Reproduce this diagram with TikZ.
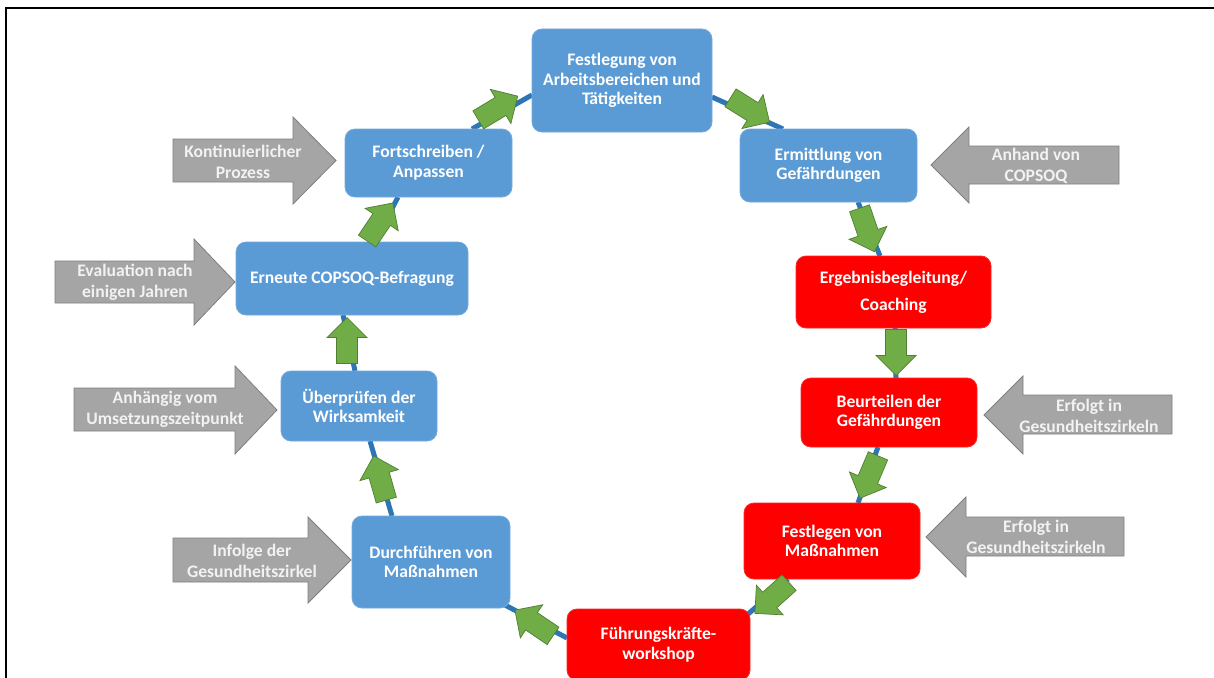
\documentclass[tikz,border=0pt]{standalone}
\usepackage{fontspec}
\setmainfont{Carlito}
\usetikzlibrary{calc,backgrounds}
\definecolor{boxblue}{HTML}{5B9BD5}
\definecolor{linkblue}{HTML}{2E75B6}
\definecolor{gafill}{HTML}{70AD47}
\definecolor{gadraw}{HTML}{507E32}
\definecolor{grfill}{HTML}{A5A5A5}
\definecolor{grdraw}{HTML}{7F7F7F}
\definecolor{boxred}{HTML}{FF0000}
\definecolor{grtext}{HTML}{F2F2F2}
\begin{document}
\begin{tikzpicture}[x=1pt,y=-1pt,
  procbox/.style={rounded corners=10pt, inner sep=0pt, outer sep=0pt, align=center,
    text=white, font=\fontsize{17.6}{19.6}\selectfont\bfseries, line width=0.8pt},
  bluebox/.style={procbox, fill=boxblue, draw=boxblue!85!white},
  redbox/.style={procbox, fill=boxred, draw=boxred!85!white},
  link/.style={draw=linkblue, line width=5pt},
  ga/.style={fill=gafill, draw=gadraw, line width=0.7pt, line join=miter},
  grayarrow/.style={fill=grfill, draw=grdraw, line width=0.8pt},
  graytext/.style={align=center, text=grtext, inner sep=0pt,
    font=\fontsize{17.6}{21}\selectfont\bfseries},
  garrow/.pic={\path[ga] (-23,-10.5) -- (3,-10.5) -- (3,-20) -- (23,0) -- (3,20) -- (3,10.5) -- (-23,10.5) -- cycle;}
]
\useasboundingbox (0,0) rectangle (1214,677);
\clip (0,0) rectangle (1214,677);

% boxes
\node[bluebox, minimum width=180pt, minimum height=103pt] (A) at (622,80.5) {Festlegung von\\Arbeitsbereichen und\\Tätigkeiten};
\node[bluebox, minimum width=177pt, minimum height=73pt] (B) at (828.5,165.5) {Ermittlung von\\Gefährdungen};
\node[redbox, minimum width=195pt, minimum height=72pt, font=\fontsize{17.6}{27}\selectfont\bfseries] (C) at (893.5,292) {Ergebnisbegleitung/\\Coaching};
\node[redbox, minimum width=176pt, minimum height=69pt] (D) at (889,412.5) {Beurteilen der\\Gefährdungen};
\node[redbox, minimum width=176pt, minimum height=76pt] (E) at (832,541) {Festlegen von\\Maßnahmen};
\node[redbox, minimum width=183pt, minimum height=71pt] (F) at (658.5,644.5) {Führungskräfte-\\workshop};
\node[bluebox, minimum width=158pt, minimum height=92pt] (G) at (431,562) {Durchführen von\\Maßnahmen};
\node[bluebox, minimum width=156pt, minimum height=70pt] (H) at (359,406) {Überprüfen der\\Wirksamkeit};
\node[bluebox, minimum width=232pt, minimum height=73pt] (I) at (352,278.5) {Erneute COPSOQ-Befragung};
\node[bluebox, minimum width=167pt, minimum height=68pt] (J) at (428.5,163) {Fortschreiben /\\Anpassen};

% white page and connecting lines behind the boxes
\begin{scope}[on background layer]
\fill[white] (-6,-6) rectangle (1220,683);
\draw[link] ($(J.north)+(43.5,0)$) -- ($(A.west)+(0,14.5)$);
\draw[link] ($(A.east)+(0,16.5)$) -- ($(B.north)+(-45.5,0)$);
\draw[link] ($(B.south)+(29.5,0)$) -- ($(C.north)+(-13.5,0)$);
\draw[link] ($(C.south)+(1.5,0)$) -- ($(D.north)+(7,0)$);
\draw[link] ($(D.south)+(-11,0)$) -- ($(E.north)+(26,0)$);
\draw[link] ($(E.south)+(-44,0)$) -- ($(F.north east)+(-3,6)$);
\draw[link] ($(F.west)+(0,-6.5)$) -- ($(G.south east)+(-5,-3)$);
\draw[link] ($(G.north)+(-39,0)$) -- ($(H.south)+(11,0)$);
\draw[link] ($(H.north)+(-4,0)$) -- ($(I.south)+(-9,0)$);
\draw[link] ($(I.north)+(23,0)$) -- ($(J.south)+(-30.5,0)$);
\end{scope}

% green block arrows
\pic[rotate=31] at (498,108) {garrow};
\pic[rotate=-32] at (750,110) {garrow};
\pic[rotate=-71] at (867,230) {garrow};
\pic[rotate=-90] at (896,352.5) {garrow};
\pic[rotate=-113] at (869,477) {garrow};
\pic[rotate=-138] at (772,598) {garrow};
\pic[rotate=146] at (534,623) {garrow};
\pic[rotate=106] at (380,478) {garrow};
\pic[rotate=90] at (347,340.5) {garrow};
\pic[rotate=56] at (380,222) {garrow};

% gray side arrows
\path[grayarrow] (173,139) -- (293,139) -- (293,117) -- (336,160.5) -- (293,204) -- (293,182) -- (173,182) -- cycle;
\path[grayarrow] (55,261) -- (194,261) -- (194,239) -- (235,282) -- (194,325) -- (194,303) -- (55,303) -- cycle;
\path[grayarrow] (74,388) -- (235,388) -- (235,366) -- (277,410) -- (235,454) -- (235,431) -- (74,431) -- cycle;
\path[grayarrow] (173,538) -- (308,538) -- (308,517) -- (351,560) -- (308,603) -- (308,582) -- (173,582) -- cycle;
\path[grayarrow] (1119,146) -- (969,146) -- (969,127) -- (931,165) -- (969,203) -- (969,184) -- (1119,184) -- cycle;
\path[grayarrow] (1172,395) -- (1023,395) -- (1023,376) -- (984,415) -- (1023,454) -- (1023,434) -- (1172,434) -- cycle;
\path[grayarrow] (1124,517) -- (966,517) -- (966,497) -- (926,537) -- (966,577) -- (966,556) -- (1124,556) -- cycle;

\node[graytext] (t1) at (243,161.5) {Kontinuierlicher\\Prozess};
\node[graytext] (t2) at (135,282) {Evaluation nach\\einigen Jahren};
\node[graytext] (t3) at (165,409.5) {Anhängig vom\\Umsetzungszeitpunkt};
\node[graytext] (t4) at (252,560.5) {Infolge der\\Gesundheitszirkel};
\node[graytext] (t5) at (1036,166) {Anhand von\\COPSOQ};
\node[graytext] (t6) at (1089,415.5) {Erfolgt in\\Gesundheitszirkeln};
\node[graytext] (t7) at (1036,536.5) {Erfolgt in\\Gesundheitszirkeln};

% frame (top and left edges)
\draw[line width=2pt] (6,680) -- (6,8) -- (1218,8);
\end{tikzpicture}
\end{document}
